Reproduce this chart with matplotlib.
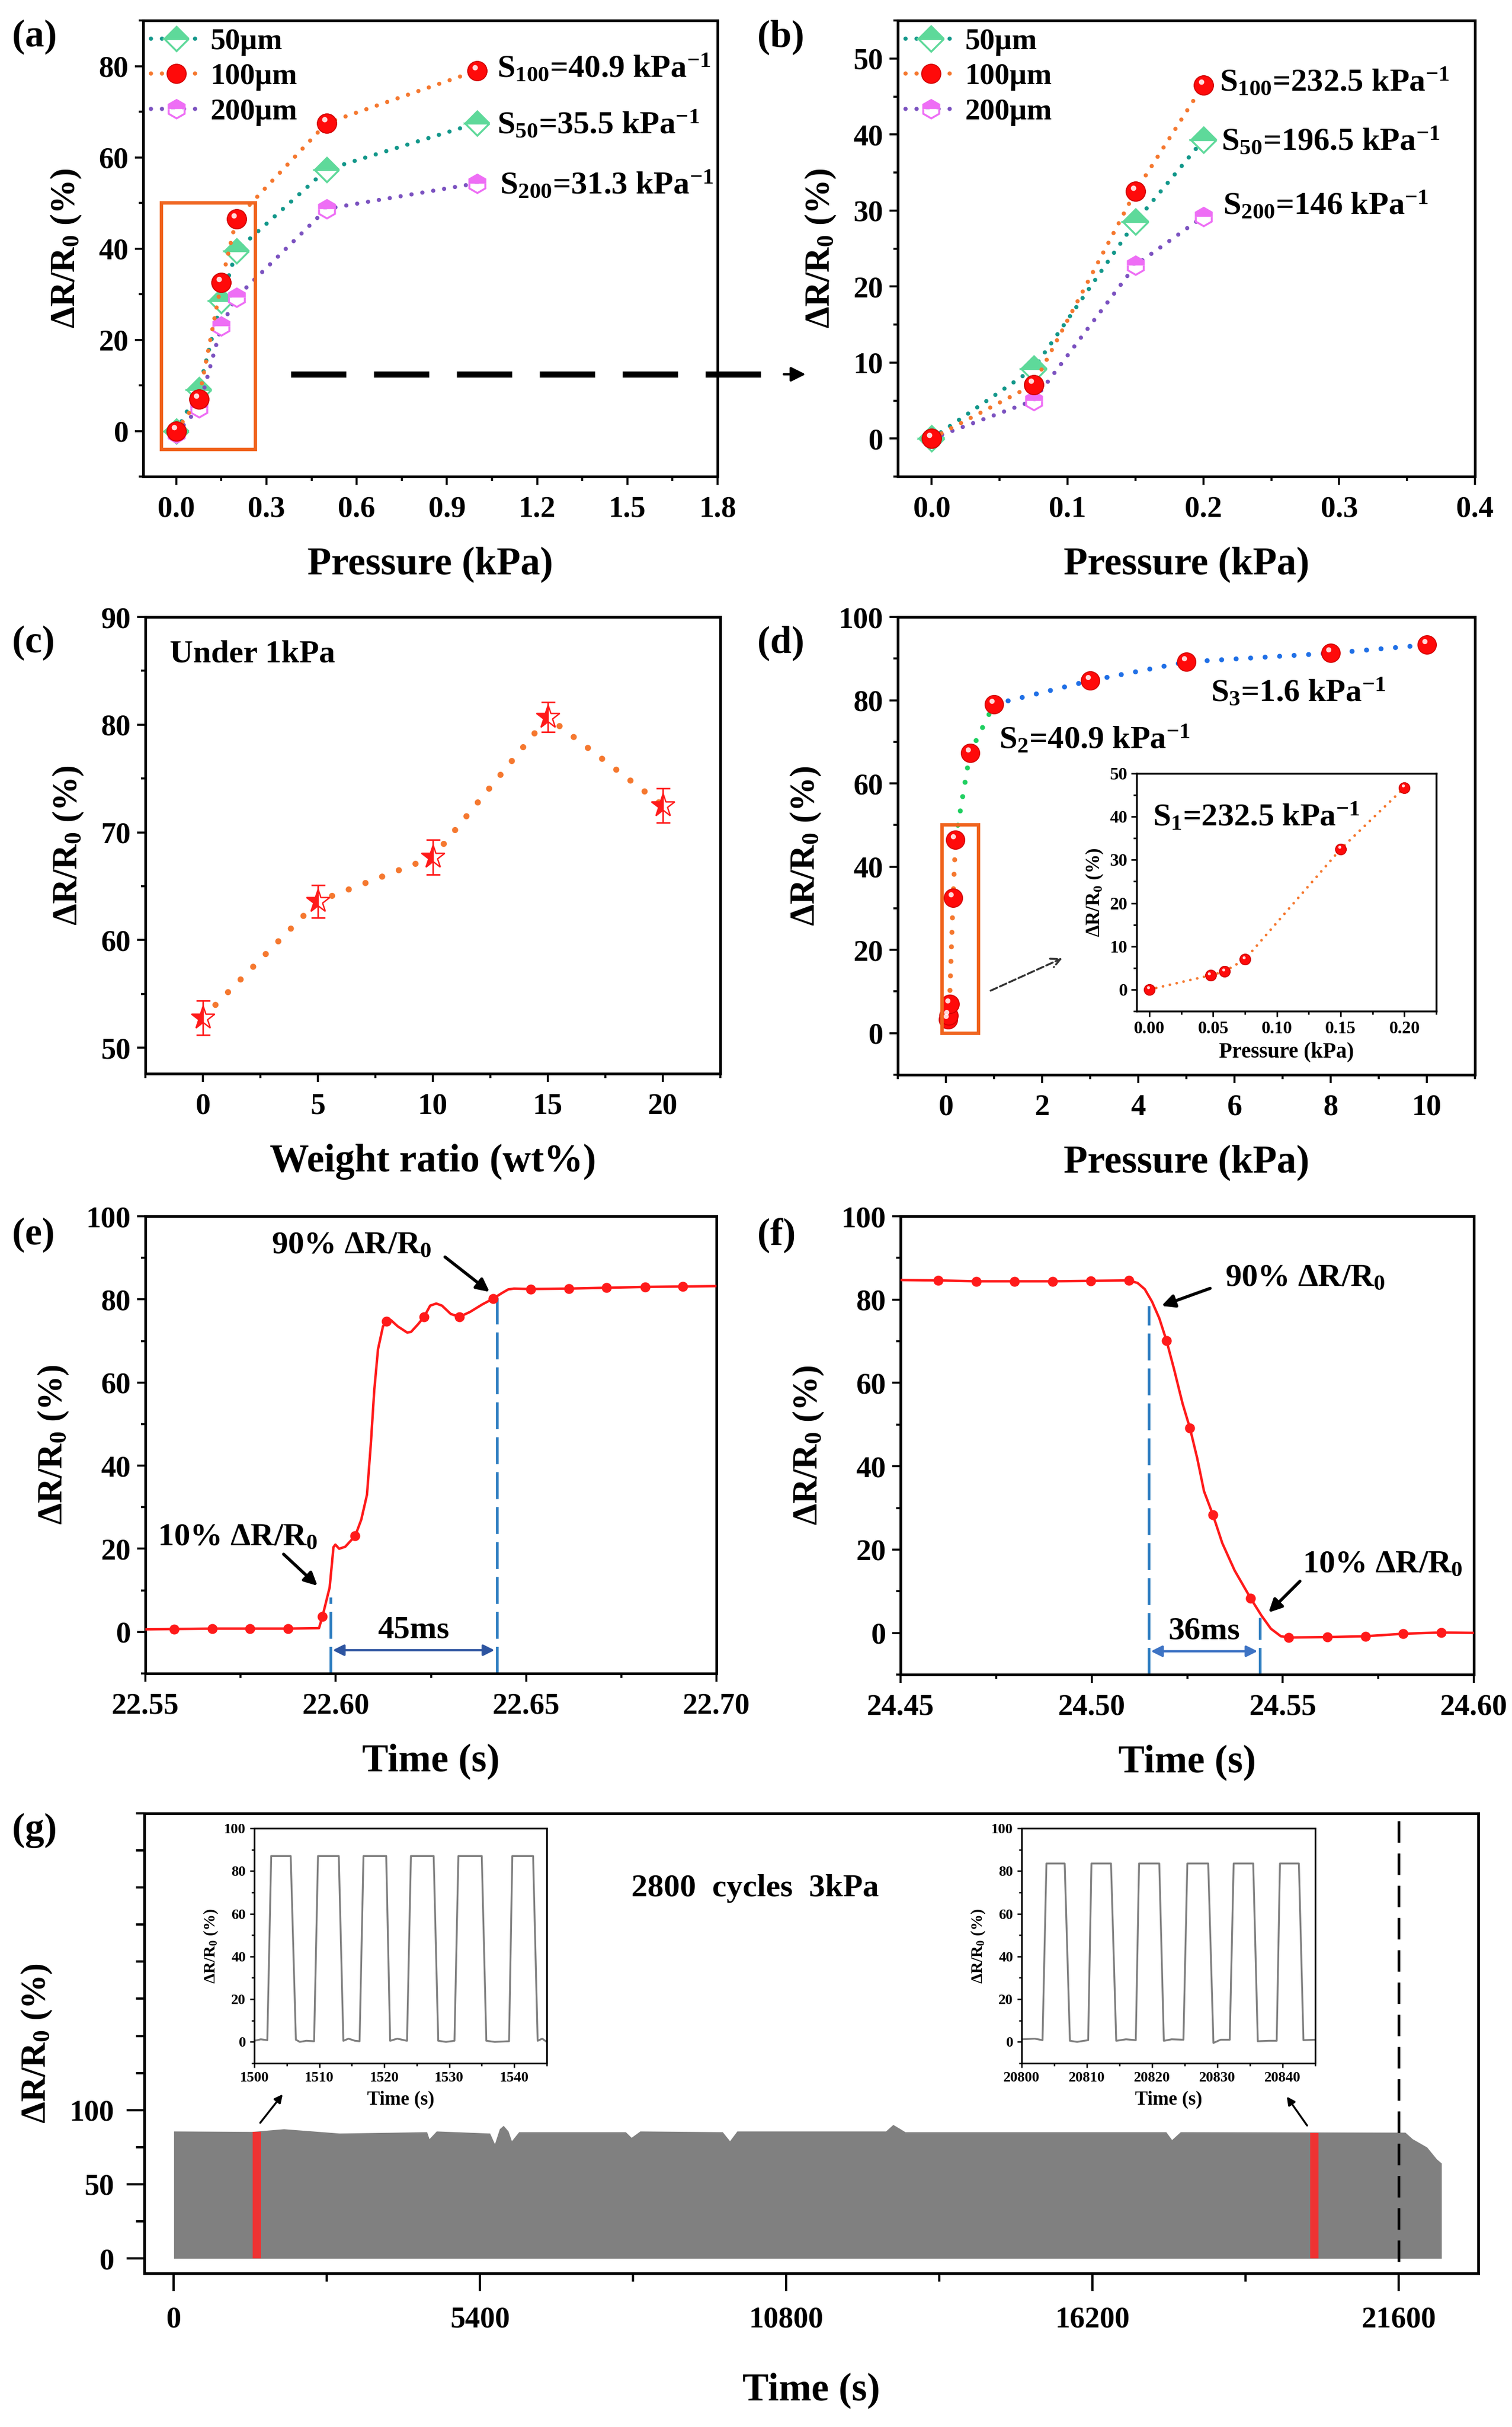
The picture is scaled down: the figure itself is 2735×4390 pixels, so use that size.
import matplotlib
matplotlib.use('Agg')
import matplotlib.pyplot as plt
from matplotlib.ticker import MultipleLocator, FormatStrFormatter, FixedLocator
from matplotlib.lines import Line2D
from matplotlib.patches import Rectangle, FancyArrowPatch
import matplotlib.transforms as mtransforms

plt.rcParams.update({
    'font.family': ['Liberation Serif', 'DejaVu Serif'],
    'font.weight': 'bold',
    'axes.labelweight': 'bold',
    'mathtext.fontset': 'custom',
    'mathtext.rm': 'Liberation Serif:bold',
    'mathtext.it': 'Liberation Serif:italic:bold',
    'mathtext.bf': 'Liberation Serif:bold',
    'mathtext.default': 'regular',
    'axes.linewidth': 3.5,
})

# ---------------- data ----------------
# (a)
p_a = [0, 0.075, 0.15, 0.2, 0.5, 1.0]
r50_a = [0, 9.0, 28.5, 39.5, 57.3, 67.5]
r100_a = [0, 7.0, 32.5, 46.5, 67.5, 79.0]
r200_a = [-0.5, 5.0, 23.0, 29.3, 48.7, 54.3]
# (b)
p_b = [0, 0.075, 0.15, 0.2]
r50_b = [0, 9.2, 28.5, 39.3]
r100_b = [0, 7.1, 32.5, 46.5]
r200_b = [0, 5.0, 22.8, 29.2]
legend_labels = ['50µm', '100µm', '200µm']
# (c)
wt_c = [0, 5, 10, 15, 20]
r_c = [52.8, 63.6, 67.7, 80.7, 72.5]
err_c = [1.6, 1.5, 1.6, 1.4, 1.6]
# (d)
p_d1 = [0.048, 0.059, 0.075, 0.15, 0.2]
r_d1 = [3.3, 4.2, 7.0, 32.5, 46.5]
p_d2 = [0.2, 0.5, 1.0]
r_d2 = [46.5, 67.3, 79.0]
p_d3 = [1.0, 3.0, 5.0, 8.0, 10.0]
r_d3 = [79.0, 84.7, 89.2, 91.3, 93.3]
# (d) inset
p_di = [0, 0.048, 0.059, 0.075, 0.15, 0.2]
r_di = [0, 3.3, 4.2, 7.0, 32.5, 46.7]
# (e) response
t_e = [22.550, 22.5576, 22.5676, 22.5775, 22.5874, 22.5956, 22.5965, 22.5984, 22.5994,
       22.5999, 22.6009, 22.6025, 22.6051, 22.6067, 22.6082, 22.6092, 22.6101, 22.6111,
       22.6124, 22.6133, 22.6145, 22.6163, 22.6188, 22.6198, 22.6216, 22.6232, 22.6248,
       22.6264, 22.6279, 22.6302, 22.6325, 22.6353, 22.6385, 22.6414, 22.6436, 22.6453,
       22.6468, 22.6512, 22.6612, 22.6711, 22.6812, 22.6911, 22.700]
r_e = [0.6, 0.7, 0.8, 0.8, 0.8, 0.9, 3.7, 10.7, 20.4,
       21.0, 20.0, 20.5, 23.1, 27.0, 33.0, 45.0, 58.0, 68.0,
       73.5, 74.7, 75.0, 73.5, 72.0, 72.2, 74.0, 75.8, 78.5,
       79.0, 78.5, 76.5, 75.8, 77.0, 78.8, 80.2, 81.5, 82.4,
       82.6, 82.5, 82.6, 82.8, 83.0, 83.1, 83.2]
mark_e = [1, 2, 3, 4, 6, 12, 19, 25, 30, 33, 37, 38, 39, 40, 41]
t10_e, t90_e = 22.5986, 22.6423
# (f) recovery
t_f = [24.450, 24.4599, 24.4698, 24.4798, 24.4898, 24.4997, 24.5097, 24.5120, 24.5139,
       24.5158, 24.5177, 24.5196, 24.5215, 24.5238, 24.5257, 24.5276, 24.5294, 24.5317,
       24.5342, 24.5374, 24.5416, 24.5444, 24.5469, 24.5495, 24.5516, 24.5616, 24.5716,
       24.5815, 24.5914, 24.600]
r_f = [84.7, 84.6, 84.4, 84.4, 84.4, 84.5, 84.6, 84.0, 82.5,
       79.5, 75.5, 70.1, 63.5, 55.0, 49.2, 42.0, 34.0, 28.4,
       21.5, 15.0, 8.3, 4.2, 1.0, -0.8, -1.1, -1.0, -0.8,
       -0.2, 0.1, 0.0]
mark_f = [1, 2, 3, 4, 5, 6, 11, 14, 17, 20, 24, 25, 26, 27, 28]
t90_f, t10_f = 24.5149, 24.5440
# (g) cycling: upper envelope of the 2800 cycles
t_g = [0, 1385, 1940, 2923, 4462, 4504, 4632, 5573, 5658, 5744, 5812, 5897, 5957, 6085,
       7966, 8068, 8222, 9675, 9803, 9932, 12554, 12682, 12810, 12895, 17495, 17597,
       17750, 21711, 21839, 22095, 22266, 22351]
top_g = [85.8, 85.5, 87.3, 84.4, 85.3, 80.6, 85.8, 84.4, 77.2, 87.3, 89.6, 85.8, 79.2, 85.3,
         85.3, 81.5, 85.8, 85.3, 79.2, 85.8, 85.8, 90.2, 87.3, 85.3, 85.3, 80.0,
         85.3, 85.0, 80.6, 75.0, 67.0, 64.2]
red_t = [1460, 20110]
red_h = [85.5, 84.5]
# (g) insets
t_g1 = [1500.0, 1501.0, 1502.0, 1502.6, 1505.6, 1506.4, 1507.0, 1508.0, 1509.2, 1509.8,
        1513.0, 1513.7, 1514.5, 1515.5, 1516.2, 1516.8, 1520.3, 1520.9, 1522.0, 1523.5,
        1524.1, 1527.6, 1528.3, 1529.5, 1530.8, 1531.4, 1535.0, 1535.7, 1537.0, 1539.2,
        1539.7, 1542.9, 1543.6, 1544.3, 1545.0]
r_g1 = [0.5, 1.2, 0.8, 87, 87, 1.0, 0.0, 0.5, 0.3, 87,
        87, 0.5, 1.5, 0.5, 0.3, 87, 87, 0.5, 1.5, 0.5,
        87, 87, 0.5, 0.0, 0.5, 87, 87, 0.5, 0.0, 0.3,
        87, 87, 0.5, 1.5, 0.0]
t_g2 = [20800.0, 20802.0, 20803.2, 20803.8, 20806.6, 20807.4, 20808.5, 20810.2, 20810.7,
        20813.7, 20814.5, 20816.0, 20817.5, 20818.0, 20821.1, 20821.8, 20823.0, 20824.8,
        20825.4, 20828.6, 20829.4, 20830.5, 20831.9, 20832.5, 20835.5, 20836.2, 20838.0,
        20839.1, 20839.6, 20842.5, 20843.2, 20845.0]
r_g2 = [1.2, 1.5, 0.8, 83.5, 83.5, 0.5, 0.0, 0.8, 83.5,
        83.5, 0.5, 1.2, 0.8, 83.5, 83.5, 0.5, 1.2, 1.0,
        83.5, 83.5, -0.5, 1.0, 1.0, 83.5, 83.5, 0.3, 0.5,
        0.5, 83.5, 83.5, 0.8, 1.0]

# ---------------- styles ----------------
C50_LINE, C50_MK = '#12978a', '#5ed99a'
C100_LINE, C100_MK = '#f5782f', '#ff0a0a'
C200_LINE, C200_MK = '#7b52c0', '#ee6ef5'
BOX = '#f0641e'
RED = '#ff1a1a'


def dots(gap):
    return (0, (0.01, gap))


W, H = 2735, 4390
fig = plt.figure(figsize=(W / 100, H / 100), dpi=100)


def rect(l, t, r, b):
    return [l / W, 1 - b / H, (r - l) / W, (b - t) / H]


TICK_FS = 39
XLAB_FS = 51
YLAB_FS = 45
TXT_FS = 42
YLAB = 'ΔR/R$_0$ (%)'


def style(ax, xmaj, xmin, ymaj, ymin, fs=TICK_FS, maj=11, mnr=5.5, w=2.6, xpad=14, ypad=8):
    ax.xaxis.set_major_locator(MultipleLocator(xmaj))
    ax.xaxis.set_minor_locator(MultipleLocator(xmin))
    ax.yaxis.set_major_locator(MultipleLocator(ymaj))
    ax.yaxis.set_minor_locator(MultipleLocator(ymin))
    ax.tick_params(which='both', top=False, right=False, direction='out', width=w)
    ax.tick_params(which='major', length=maj, labelsize=fs)
    ax.tick_params(which='minor', length=mnr)
    ax.tick_params(axis='x', which='both', pad=xpad)
    ax.tick_params(axis='y', which='both', pad=ypad)


def spheres(ax, x, y, ms, **kw):
    ax.plot(x, y, ls='none', marker='o', ms=ms, mfc=C100_MK, mec='#d00000', mew=1.2, **kw)
    off = mtransforms.offset_copy(ax.transData, fig=fig, x=-ms * 0.12, y=ms * 0.18, units='points')
    ax.plot(x, y, ls='none', marker='o', ms=ms * 0.28, mfc='white', mec='none', alpha=0.85,
            transform=off, **kw)


# ---------------- (a) ----------------
axa = fig.add_axes(rect(259, 37, 1298, 862))
ha = axa.plot(p_a, r50_a, ls=dots(2.6), lw=5.5, color=C50_LINE, dash_capstyle='round', marker='D', ms=22,
              mfc=C50_MK, mfcalt='white', fillstyle='top', mec=C50_MK, mew=2.5, zorder=3)
hb = axa.plot(p_a, r100_a, ls=dots(2.6), lw=5.5, color=C100_LINE, dash_capstyle='round', marker='o', ms=25,
              mfc=C100_MK, mec='#d00000', mew=1.2, zorder=4)
spheres(axa, p_a, r100_a, 25, zorder=5)
hc = axa.plot(p_a, r200_a, ls=dots(2.6), lw=5.5, color=C200_LINE, dash_capstyle='round', marker='h', ms=24,
              mfc=C200_MK, mfcalt='white', fillstyle='top', mec=C200_MK, mew=2.5, zorder=3)
axa.set_xlim(-0.11, 1.8)
axa.set_ylim(-10, 90)
style(axa, 0.3, 0.15, 20, 10)
axa.xaxis.set_major_formatter(FormatStrFormatter('%.1f'))
axa.set_xlabel('Pressure (kPa)', fontsize=XLAB_FS, labelpad=30)
axa.set_ylabel(YLAB, fontsize=YLAB_FS, labelpad=20)
axa.legend(handles=[ha[0], hb[0], hc[0]], labels=legend_labels, loc='upper left',
           bbox_to_anchor=(0.0, 1.0), frameon=False, fontsize=39, handlelength=1.7,
           handletextpad=0.3, labelspacing=0.25, borderaxespad=0.1, borderpad=0.15)
axa.text(1.067, 79.6, 'S$_{100}$=40.9 kPa$^{-1}$', fontsize=TXT_FS, va='center', ha='left')
axa.text(1.067, 67.2, 'S$_{50}$=35.5 kPa$^{-1}$', fontsize=TXT_FS, va='center', ha='left')
axa.text(1.075, 54.0, 'S$_{200}$=31.3 kPa$^{-1}$', fontsize=TXT_FS, va='center', ha='left')
axa.add_patch(Rectangle((-0.05, -4), 0.314, 54, fill=False, ec=BOX, lw=4.5, zorder=6))

# ---------------- (b) ----------------
axb = fig.add_axes(rect(1624, 37, 2668, 862))
hb1 = axb.plot(p_b, r50_b, ls=dots(2.6), lw=5.5, color=C50_LINE, dash_capstyle='round', marker='D', ms=23,
               mfc=C50_MK, mfcalt='white', fillstyle='top', mec=C50_MK, mew=2.5, zorder=3)
hb2 = axb.plot(p_b, r100_b, ls=dots(2.6), lw=5.5, color=C100_LINE, dash_capstyle='round', marker='o', ms=25,
               mfc=C100_MK, mec='#d00000', mew=1.2, zorder=4)
spheres(axb, p_b, r100_b, 25, zorder=5)
hb3 = axb.plot(p_b, r200_b, ls=dots(2.6), lw=5.5, color=C200_LINE, dash_capstyle='round', marker='h', ms=24,
               mfc=C200_MK, mfcalt='white', fillstyle='top', mec=C200_MK, mew=2.5, zorder=3)
axb.set_xlim(-0.025, 0.4)
axb.set_ylim(-5, 55)
style(axb, 0.1, 0.05, 10, 5)
axb.xaxis.set_major_formatter(FormatStrFormatter('%.1f'))
axb.set_xlabel('Pressure (kPa)', fontsize=XLAB_FS, labelpad=30)
axb.set_ylabel(YLAB, fontsize=YLAB_FS, labelpad=20)
axb.legend(handles=[hb1[0], hb2[0], hb3[0]], labels=legend_labels, loc='upper left',
           bbox_to_anchor=(0.0, 1.0), frameon=False, fontsize=39, handlelength=1.7,
           handletextpad=0.3, labelspacing=0.25, borderaxespad=0.1, borderpad=0.15)
axb.text(0.212, 46.9, 'S$_{100}$=232.5 kPa$^{-1}$', fontsize=TXT_FS, va='center', ha='left')
axb.text(0.213, 39.1, 'S$_{50}$=196.5 kPa$^{-1}$', fontsize=TXT_FS, va='center', ha='left')
axb.text(0.2145, 30.7, 'S$_{200}$=146 kPa$^{-1}$', fontsize=TXT_FS, va='center', ha='left')

# dashed arrow from (a) to (b)
fig.add_artist(Line2D([526 / W, 1425 / W], [1 - 677 / H, 1 - 677 / H], color='black', lw=8,
                      ls=(0, (9, 4.5)), transform=fig.transFigure))
fig.add_artist(FancyArrowPatch((1415 / W, 1 - 677 / H), (1460 / W, 1 - 677 / H),
                               transform=fig.transFigure, arrowstyle='-|>',
                               mutation_scale=40, color='black', lw=3))

# ---------------- (c) ----------------
axc = fig.add_axes(rect(263, 1116, 1303, 1942))
axc.plot(wt_c, r_c, ls=dots(2.9), lw=8, color=C100_LINE, dash_capstyle='round', zorder=2)
axc.errorbar(wt_c, r_c, yerr=err_c, fmt='none', ecolor=RED, elinewidth=2, capsize=9, capthick=2, zorder=3)
axc.plot(wt_c, r_c, ls='none', marker='*', ms=32, mfc=RED, mfcalt='white', fillstyle='left',
         mec=RED, mew=1.8, zorder=4)
axc.set_xlim(-2.5, 22.5)
axc.set_ylim(47.6, 90)
style(axc, 5, 2.5, 10, 5)
axc.set_xlabel('Weight ratio (wt%)', fontsize=XLAB_FS, labelpad=30)
axc.set_ylabel(YLAB, fontsize=YLAB_FS, labelpad=20)
axc.text(0.042, 0.918, 'Under 1kPa', transform=axc.transAxes, fontsize=TXT_FS, va='center', ha='left')

# ---------------- (d) ----------------
axd = fig.add_axes(rect(1624, 1116, 2668, 1944))
axd.plot(p_d1, r_d1, ls=dots(2.9), lw=6.5, color=C100_LINE, dash_capstyle='round', zorder=2)
axd.plot(p_d2, r_d2, ls=dots(2.9), lw=6.5, color='#1fcf60', dash_capstyle='round', zorder=2)
axd.plot(p_d3, r_d3, ls=dots(2.9), lw=6.5, color='#1f6fe6', dash_capstyle='round', zorder=2)
spheres(axd, p_d1 + p_d2[1:] + p_d3[1:], r_d1 + r_d2[1:] + r_d3[1:], 24, zorder=4)
axd.set_xlim(-1, 11)
axd.set_ylim(-10, 100)
style(axd, 2, 1, 20, 10)
axd.set_xlabel('Pressure (kPa)', fontsize=XLAB_FS, labelpad=30)
axd.set_ylabel(YLAB, fontsize=YLAB_FS, labelpad=20)
axd.add_patch(Rectangle((-0.08, 0), 0.76, 50, fill=False, ec=BOX, lw=4.5, zorder=6))
axd.text(5.51, 81.9, 'S$_3$=1.6 kPa$^{-1}$', fontsize=TXT_FS, va='center', ha='left')
axd.text(1.10, 70.5, 'S$_2$=40.9 kPa$^{-1}$', fontsize=TXT_FS, va='center', ha='left')
axd.annotate('', xy=(2.42, 18), xytext=(0.93, 10.2),
             arrowprops=dict(arrowstyle='->', ls='--', color='#333333', lw=2.5, mutation_scale=30,
                             shrinkA=0, shrinkB=0))

# inset of (d)
axdi = fig.add_axes(rect(2056, 1399, 2598, 1829))
axdi.plot(p_di, r_di, ls=dots(2.6), lw=3.5, color=C100_LINE, dash_capstyle='round', zorder=2)
spheres(axdi, p_di, r_di, 14, zorder=4)
axdi.set_xlim(-0.01, 0.225)
axdi.set_ylim(-5, 50)
style(axdi, 0.05, 0.025, 10, 5, fs=23, maj=7, mnr=4, w=2, xpad=6, ypad=5)
axdi.xaxis.set_major_formatter(FormatStrFormatter('%.2f'))
for s in axdi.spines.values():
    s.set_linewidth(2.5)
axdi.set_xlabel('Pressure (kPa)', fontsize=28, labelpad=6)
axdi.set_ylabel(YLAB, fontsize=25, labelpad=6)
axdi.text(0.0027, 39.9, 'S$_1$=232.5 kPa$^{-1}$', fontsize=TXT_FS, va='center', ha='left')

# ---------------- (e) ----------------
axe = fig.add_axes(rect(263, 2200, 1296, 3027))
axe.plot(t_e, r_e, color=RED, lw=3.2, marker='o', ms=12, markevery=mark_e, mfc=RED, mec=RED, zorder=3)
axe.set_xlim(22.55, 22.70)
axe.set_ylim(-10, 100)
style(axe, 0.05, 0.025, 20, 10)
axe.xaxis.set_major_formatter(FormatStrFormatter('%.2f'))
axe.set_xlabel('Time (s)', fontsize=XLAB_FS, labelpad=30)
axe.set_ylabel(YLAB, fontsize=YLAB_FS, labelpad=20)
axe.plot([t10_e, t10_e], [-10, 8.4], color='#2f7ec1', lw=3.5, dashes=(10, 3), zorder=2)
axe.plot([t90_e, t90_e], [-10, 81.3], color='#2f7ec1', lw=3.5, dashes=(10, 3), zorder=2)
axe.annotate('', xy=(t90_e - 0.0006, -4.4), xytext=(t10_e + 0.0006, -4.4),
             arrowprops=dict(arrowstyle='<|-|>', color='#2d54a0', lw=3, mutation_scale=30,
                             shrinkA=0, shrinkB=0))
axe.text((t10_e + t90_e) / 2, 0.4, '45ms', fontsize=TXT_FS, ha='center', va='center')
axe.text(22.5742, 22.7, '10% ΔR/R$_0$', fontsize=TXT_FS, ha='center', va='center')
axe.annotate('', xy=(22.5952, 11.1), xytext=(22.5863, 18.7),
             arrowprops=dict(arrowstyle='-|>', color='black', lw=4, mutation_scale=35,
                             shrinkA=0, shrinkB=0))
axe.text(22.6041, 92.9, '90% ΔR/R$_0$', fontsize=TXT_FS, ha='center', va='center')
axe.annotate('', xy=(22.6404, 81.8), xytext=(22.6287, 90.2),
             arrowprops=dict(arrowstyle='-|>', color='black', lw=4, mutation_scale=35,
                             shrinkA=0, shrinkB=0))

# ---------------- (f) ----------------
axf = fig.add_axes(rect(1629, 2200, 2666, 3029))
axf.plot(t_f, r_f, color=RED, lw=3.2, marker='o', ms=12, markevery=mark_f, mfc=RED, mec=RED, zorder=3)
axf.set_xlim(24.45, 24.60)
axf.set_ylim(-10, 100)
style(axf, 0.05, 0.025, 20, 10)
axf.xaxis.set_major_formatter(FormatStrFormatter('%.2f'))
axf.set_xlabel('Time (s)', fontsize=XLAB_FS, labelpad=30)
axf.set_ylabel(YLAB, fontsize=YLAB_FS, labelpad=20)
axf.plot([t90_f, t90_f], [-10, 78.5], color='#2f7ec1', lw=3.5, dashes=(10, 3), zorder=2)
axf.plot([t10_f, t10_f], [-10, 3.7], color='#2f7ec1', lw=3.5, dashes=(10, 3), zorder=2)
axf.annotate('', xy=(t10_f - 0.0006, -4.4), xytext=(t90_f + 0.0006, -4.4),
             arrowprops=dict(arrowstyle='<|-|>', color='#3d73c4', lw=3, mutation_scale=30,
                             shrinkA=0, shrinkB=0))
axf.text((t10_f + t90_f) / 2, 0.4, '36ms', fontsize=TXT_FS, ha='center', va='center')
axf.text(24.5558, 85.1, '90% ΔR/R$_0$', fontsize=TXT_FS, ha='center', va='center')
axf.annotate('', xy=(24.5183, 78.5), xytext=(24.5310, 82.7),
             arrowprops=dict(arrowstyle='-|>', color='black', lw=4, mutation_scale=35,
                             shrinkA=0, shrinkB=0))
axf.text(24.5761, 16.4, '10% ΔR/R$_0$', fontsize=TXT_FS, ha='center', va='center')
axf.annotate('', xy=(24.5463, 4.9), xytext=(24.5545, 12.4),
             arrowprops=dict(arrowstyle='-|>', color='black', lw=4, mutation_scale=35,
                             shrinkA=0, shrinkB=0))

# ---------------- (g) ----------------
axg = fig.add_axes(rect(261, 3280, 2674, 4112))
axg.fill_between(t_g, 0, top_g, color='#808080', lw=0, zorder=2)
axg.bar(red_t, red_h, width=145, color='#ee3333', zorder=3)
axg.axvline(21600, ymin=0.025, ymax=0.987, color='black', lw=3.5, dashes=(8, 4), zorder=4)
axg.set_xlim(-520, 23000)
axg.set_ylim(-10, 300)
axg.xaxis.set_major_locator(MultipleLocator(5400))
axg.xaxis.set_minor_locator(MultipleLocator(2700))
axg.yaxis.set_major_locator(FixedLocator([0, 50, 100]))
axg.yaxis.set_minor_locator(MultipleLocator(25))
axg.tick_params(which='both', top=False, right=False, direction='out', width=3)
axg.tick_params(which='major', length=23, labelsize=TICK_FS)
axg.tick_params(which='minor', length=11)
axg.tick_params(axis='x', which='both', pad=20)
axg.tick_params(axis='y', which='both', pad=16)
axg.set_xlabel('Time (s)', fontsize=XLAB_FS, labelpad=50)
axg.set_ylabel(YLAB, fontsize=YLAB_FS, labelpad=20)
axg.text(0.458, 0.837, '2800  cycles  3kPa', transform=axg.transAxes, fontsize=TXT_FS,
         ha='center', va='center')


def inset_style(ax):
    ax.xaxis.set_major_locator(MultipleLocator(10))
    ax.xaxis.set_minor_locator(MultipleLocator(5))
    ax.yaxis.set_major_locator(MultipleLocator(20))
    ax.yaxis.set_minor_locator(MultipleLocator(10))
    ax.tick_params(which='both', top=False, right=False, direction='out', width=1.8)
    ax.tick_params(which='major', length=6, labelsize=19, pad=5)
    ax.tick_params(which='minor', length=3.5)
    for s in ax.spines.values():
        s.set_linewidth(2.2)
    ax.set_xlabel('Time (s)', fontsize=25, labelpad=8)
    ax.set_ylabel(YLAB, fontsize=21, labelpad=6)


axg1 = fig.add_axes(rect(460, 3307, 989, 3732))
axg1.plot(t_g1, r_g1, color='#7f7f7f', lw=2.4)
axg1.set_xlim(1500, 1545)
axg1.set_ylim(-10, 100)
inset_style(axg1)

axg2 = fig.add_axes(rect(1848, 3307, 2379, 3732))
axg2.plot(t_g2, r_g2, color='#7f7f7f', lw=2.4)
axg2.set_xlim(20800, 20845)
axg2.set_ylim(-10, 100)
inset_style(axg2)

for (x0, y0), (x1, y1) in [((469, 3842), (513, 3786)), ((2366, 3847), (2326, 3790))]:
    fig.add_artist(FancyArrowPatch((x0 / W, 1 - y0 / H), (x1 / W, 1 - y1 / H),
                                   transform=fig.transFigure, arrowstyle='-|>',
                                   mutation_scale=22, color='black', lw=2.5))

# panel labels
for lab, x, y in [('(a)', 22, 67), ('(b)', 1370, 67), ('(c)', 22, 1163), ('(d)', 1370, 1163),
                  ('(e)', 22, 2234), ('(f)', 1370, 2234), ('(g)', 22, 3311)]:
    fig.text(x / W, 1 - y / H, lab, fontsize=50, ha='left', va='center')

fig.savefig('out.png', dpi=100)
